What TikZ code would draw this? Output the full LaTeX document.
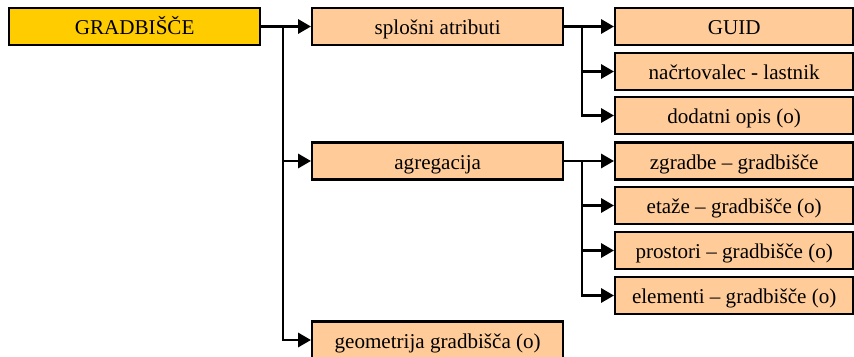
\documentclass[tikz,border=0pt]{standalone}
\usepackage{fontspec}
\setmainfont{Liberation Serif}
\usetikzlibrary{arrows.meta}

\definecolor{gold}{HTML}{FFCC00}
\definecolor{peach}{HTML}{FFCC99}

\tikzset{
    box/.style={draw=black, line width=2pt, fill=peach, inner sep=0pt,
        minimum height=1.11cm, text height=14pt, text depth=0pt,
        font=\fontsize{18}{21}\selectfont},
    midbox/.style={box, minimum width=7.53cm, anchor=west},
    subbox/.style={box, minimum width=7.14cm, anchor=west},
    link/.style={line width=2.3pt, line join=miter},
    arr/.style={link, -{Triangle[length=11pt, width=12pt]}}
}

\begin{document}
\begin{tikzpicture}[x=0.03cm, y=-0.03cm]
    \useasboundingbox (0,0) rectangle (854,356);

    % Root
    \node[box, fill=gold, minimum width=7.53cm, anchor=west] (gradbisce) at (8,26.5) {GRADBIŠČE};

    % Second level
    \node[midbox] (splosni) at (311,26.5) {splošni atributi};
    \node[midbox] (agregacija) at (311,161) {agregacija};
    \node[midbox] (geometrija) at (311,340) {geometrija gradbišča (o)};

    % Third level
    \node[subbox] (guid) at (614,26.5) {GUID};
    \node[subbox] (nacrtovalec) at (614,71.5) {načrtovalec - lastnik};
    \node[subbox] (opis) at (614,115.5) {dodatni opis (o)};
    \node[subbox] (zgradbe) at (614,161) {zgradbe – gradbišče};
    \node[subbox] (etaze) at (614,205.5) {etaže – gradbišče (o)};
    \node[subbox] (prostori) at (614,250.5) {prostori – gradbišče (o)};
    \node[subbox] (elementi) at (614,295.5) {elementi – gradbišče (o)};

    % Branch points
    \coordinate (trunk) at (283,26.5);
    \coordinate (trunkS) at (582,26.5);
    \coordinate (trunkA) at (582,161);

    % Connectors
    \draw[arr] (gradbisce.east) -- (splosni.west);
    \draw[arr] (trunk |- agregacija.west) -- (agregacija.west);
    \draw[arr] (trunk) |- (geometrija.west);

    \draw[arr] (splosni.east) -- (guid.west);
    \draw[arr] (trunkS) |- (nacrtovalec.west);
    \draw[arr] (trunkS) |- (opis.west);

    \draw[arr] (agregacija.east) -- (zgradbe.west);
    \foreach \n in {etaze, prostori, elementi}
        \draw[arr] (trunkA) |- (\n.west);
\end{tikzpicture}
\end{document}
